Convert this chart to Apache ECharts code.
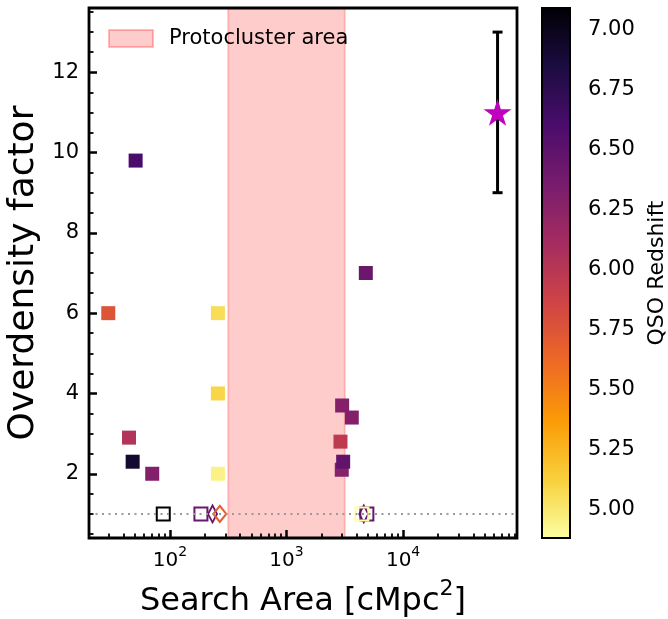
<!DOCTYPE html>
<html>
<head>
<meta charset="utf-8">
<script src="https://cdn.jsdelivr.net/npm/echarts@6/dist/echarts.min.js"></script>
<style>
  html, body { margin: 0; padding: 0; background: #fff; }
  #chart { width: 668px; height: 619px; }
</style>
</head>
<body>
<div id="chart"></div>
<script>
// Galaxy overdensity around QSOs versus survey search area, coloured by QSO redshift.

// Filled squares: measured overdensities
const areaFilled  = [29.6, 44.6, 47.9, 50.8, 70.5, 258, 258, 258, 2904, 2979, 3062, 3000, 3630, 4790];
const deltaFilled = [6.0, 2.9, 2.3, 9.8, 2.0, 6.0, 4.0, 2.0, 2.8, 2.1, 2.3, 3.7, 3.4, 7.0];
const zFilled     = [5.75, 6.03, 6.91, 6.60, 6.29, 5.06, 5.10, 4.95, 5.96, 6.27, 6.47, 6.29, 6.29, 6.43];

// Open thin diamonds (no overdensity)
const areaThinDiamond  = [232, 4600];
const deltaThinDiamond = [1, 1];
const zThinDiamond     = [6.45, 6.45];

// Open squares (no overdensity)
const areaOpenSquare  = [87.7, 184.5, 4890, 4430];
const deltaOpenSquare = [1, 1, 1, 1];
const zOpenSquare     = [7.09, 6.43, 6.45, 4.88];

// Open diamonds (no overdensity)
const areaDiamond  = [268];
const deltaDiamond = [1];
const zDiamond     = [5.68];

// Protocluster reference point with its error bar
const protoArea     = [64600];
const protoDelta    = [11];
const protoErrLow   = [9];
const protoErrHigh  = [13];

// Protocluster search-area band and the no-overdensity baseline
const protoclusterRange = [316.2, 3162];
const baselineDelta = 1;

// Axis ticks
const yTickValues   = [2, 4, 6, 8, 10, 12];
const xTickExponent = [2, 3, 4];
const cbTickValues  = [5.00, 5.25, 5.50, 5.75, 6.00, 6.25, 6.50, 6.75, 7.00];
const redshiftRange = [4.88, 7.09];

// Axis limits (x in log10 of search area)
const xLimits = [1.306, 4.977];
const yLimits = [0.4, 13.6];

// inferno colour map (dark = high redshift)
const inferno = ['#000004', '#1b0c41', '#4a0c6b', '#781c6d', '#a52c60',
                 '#cf4446', '#ed6925', '#fb9b06', '#f7d13d', '#fcffa4'];

function hexToRgb(h) {
  return [parseInt(h.slice(1, 3), 16), parseInt(h.slice(3, 5), 16), parseInt(h.slice(5, 7), 16)];
}
function redshiftColor(z) {
  let t = (redshiftRange[1] - z) / (redshiftRange[1] - redshiftRange[0]);
  t = Math.max(0, Math.min(1, t));
  const pos = t * (inferno.length - 1);
  const i = Math.min(Math.floor(pos), inferno.length - 2);
  const f = pos - i;
  const a = hexToRgb(inferno[i]), b = hexToRgb(inferno[i + 1]);
  const c = a.map((v, k) => Math.round(v + (b[k] - v) * f));
  return 'rgb(' + c.join(',') + ')';
}

const log10 = Math.log10;

// minor ticks
const xMinor = [];
for (let n = 1; n <= 4; n++) {
  for (let k = 2; k <= 9; k++) {
    const v = log10(k * Math.pow(10, n));
    if (v > xLimits[0] && v < xLimits[1]) xMinor.push(v);
  }
}
const yMinor = [];
for (let v = 0.5; v < yLimits[1]; v += 0.5) {
  if (yTickValues.indexOf(v) < 0) yMinor.push(v);
}

function starPath() {
  const pts = [];
  for (let i = 0; i < 10; i++) {
    const r = i % 2 === 0 ? 1 : 0.382;
    const a = -Math.PI / 2 + i * Math.PI / 5;
    pts.push((r * Math.cos(a)).toFixed(4) + ',' + (r * Math.sin(a)).toFixed(4));
  }
  return 'path://M' + pts.join(' L') + ' Z';
}

function filledPoints(xs, ys, zs) {
  return xs.map((x, i) => ({ value: [log10(x), ys[i], zs[i]],
    itemStyle: { color: redshiftColor(zs[i]), opacity: 1 } }));
}
function openPoints(xs, ys, zs) {
  return xs.map((x, i) => ({ value: [log10(x), ys[i], zs[i]],
    itemStyle: { color: 'transparent', borderColor: redshiftColor(zs[i]), borderWidth: 2, opacity: 1 } }));
}

const FONT = 'DejaVu Sans';
const gradientStops = inferno.map((c, i) => ({ offset: i / (inferno.length - 1), color: c }));

const chart = echarts.init(document.getElementById('chart'), null, { renderer: 'canvas' });

chart.setOption({
  animation: false,
  backgroundColor: '#fff',
  textStyle: { fontFamily: FONT, color: '#000' },
  legend: {
    left: 103, top: 23,
    itemWidth: 44, itemHeight: 17,
    textStyle: { fontSize: 21, color: '#000', fontFamily: FONT, padding: [0, 0, 0, 11] },
    selectedMode: false,
    data: [{ name: 'Protocluster area', icon: 'rect',
      itemStyle: { color: 'rgba(255,0,0,0.2)', borderColor: 'rgba(255,0,0,0.25)', borderWidth: 2, opacity: 1 } }]
  },
  grid: [
    { left: 89, top: 8, width: 428, height: 530, show: true, z: 10, outerBoundsMode: 'none', containLabel: false,
      backgroundColor: 'transparent', borderColor: '#000', borderWidth: 2.8 },
    { left: 542, top: 8, width: 28, height: 530, outerBoundsMode: 'none', containLabel: false }
  ],
  xAxis: [
    {
      gridIndex: 0, type: 'value', min: xLimits[0], max: xLimits[1], position: 'bottom', z: 10,
      axisLine: { show: false },
      splitLine: { show: false },
      axisTick: { inside: true, length: 8, customValues: xTickExponent, lineStyle: { color: '#000', width: 2.5 } },
      axisLabel: {
        customValues: xTickExponent, margin: 7,
        formatter: v => '{b|10}{s|' + Math.round(v) + '}',
        rich: {
          b: { fontSize: 20, fontFamily: FONT, color: '#000', lineHeight: 26, verticalAlign: 'bottom' },
          s: { fontSize: 14, fontFamily: FONT, color: '#000', lineHeight: 14, verticalAlign: 'top' }
        }
      },
      name: '{b|Search Area [cMpc}{s|2}{b|]}',
      nameLocation: 'middle', nameGap: 40,
      nameTextStyle: {
        rich: {
          b: { fontSize: 32, fontFamily: FONT, color: '#000', lineHeight: 40, verticalAlign: 'bottom' },
          s: { fontSize: 22, fontFamily: FONT, color: '#000', lineHeight: 22, verticalAlign: 'top' }
        }
      }
    },
    {
      gridIndex: 0, type: 'value', min: xLimits[0], max: xLimits[1], position: 'bottom', z: 10,
      axisLine: { show: false }, splitLine: { show: false }, axisLabel: { show: false },
      axisTick: { inside: true, length: 4.5, customValues: xMinor, lineStyle: { color: '#000', width: 1.8 } }
    },
    { gridIndex: 1, type: 'value', min: 0, max: 1, show: false }
  ],
  yAxis: [
    {
      gridIndex: 0, type: 'value', min: yLimits[0], max: yLimits[1], position: 'left', z: 10,
      axisLine: { show: false }, splitLine: { show: false },
      axisTick: { inside: true, length: 8, customValues: yTickValues, lineStyle: { color: '#000', width: 2.5 } },
      axisLabel: { customValues: yTickValues, margin: 10, fontSize: 21, color: '#000', fontFamily: FONT },
      name: 'Overdensity factor', nameLocation: 'middle', nameGap: 35, nameRotate: 90,
      nameTextStyle: { fontSize: 36, color: '#000', fontFamily: FONT }
    },
    {
      gridIndex: 0, type: 'value', min: yLimits[0], max: yLimits[1], position: 'left', z: 10,
      axisLine: { show: false }, splitLine: { show: false }, axisLabel: { show: false },
      axisTick: { inside: true, length: 4.5, customValues: yMinor, lineStyle: { color: '#000', width: 1.8 } }
    },
    {
      gridIndex: 1, type: 'value', min: redshiftRange[0], max: redshiftRange[1], position: 'right',
      axisLine: { show: false }, splitLine: { show: false },
      axisTick: { inside: false, length: 8, customValues: cbTickValues, lineStyle: { color: '#000', width: 2 } },
      axisLabel: { customValues: cbTickValues, margin: 18, fontSize: 21, color: '#000', fontFamily: FONT,
        formatter: v => v.toFixed(2) },
      name: 'QSO Redshift', nameLocation: 'middle', nameGap: 76, nameRotate: 90,
      nameTextStyle: { fontSize: 22, color: '#000', fontFamily: FONT }
    }
  ],
  series: [
    {
      name: 'Protocluster area', type: 'scatter', xAxisIndex: 0, yAxisIndex: 0, data: [], z: 1,
      itemStyle: { color: 'rgba(255,0,0,0.2)' },
      markArea: {
        silent: true,
        itemStyle: { color: 'rgba(255,0,0,0.2)', borderColor: 'rgba(255,0,0,0.2)', borderWidth: 2, opacity: 1 },
        data: [[{ xAxis: log10(protoclusterRange[0]) }, { xAxis: log10(protoclusterRange[1]) }]]
      }
    },
    {
      name: 'baseline', type: 'scatter', xAxisIndex: 0, yAxisIndex: 0, data: [], z: 2,
      markLine: {
        silent: true, symbol: ['none', 'none'], label: { show: false },
        lineStyle: { color: '#999999', type: [2, 4.5], width: 2.2, opacity: 1 },
        data: [{ yAxis: baselineDelta }]
      }
    },
    {
      name: 'measured', type: 'scatter', xAxisIndex: 0, yAxisIndex: 0, z: 3,
      symbol: 'rect', symbolSize: 14,
      data: filledPoints(areaFilled, deltaFilled, zFilled)
    },
    {
      name: 'thin diamonds', type: 'scatter', xAxisIndex: 0, yAxisIndex: 0, z: 3,
      symbol: 'diamond', symbolSize: [9, 17],
      data: openPoints(areaThinDiamond, deltaThinDiamond, zThinDiamond)
    },
    {
      name: 'open squares', type: 'scatter', xAxisIndex: 0, yAxisIndex: 0, z: 3,
      symbol: 'rect', symbolSize: 13,
      data: openPoints(areaOpenSquare, deltaOpenSquare, zOpenSquare)
    },
    {
      name: 'diamonds', type: 'scatter', xAxisIndex: 0, yAxisIndex: 0, z: 3,
      symbol: 'diamond', symbolSize: [13, 16],
      data: openPoints(areaDiamond, deltaDiamond, zDiamond)
    },
    {
      name: 'protocluster error', type: 'custom', xAxisIndex: 0, yAxisIndex: 0, z: 4,
      encode: { x: 0, y: [1, 2] },
      data: protoArea.map((x, i) => [log10(x), protoErrLow[i], protoErrHigh[i]]),
      renderItem: (params, api) => {
        const x = api.value(0);
        const p0 = api.coord([x, api.value(1)]);
        const p1 = api.coord([x, api.value(2)]);
        const cap = 5;
        const style = { stroke: '#000', lineWidth: 3 };
        return { type: 'group', children: [
          { type: 'line', shape: { x1: p0[0], y1: p0[1], x2: p1[0], y2: p1[1] }, style },
          { type: 'line', shape: { x1: p0[0] - cap, y1: p0[1], x2: p0[0] + cap, y2: p0[1] }, style },
          { type: 'line', shape: { x1: p1[0] - cap, y1: p1[1], x2: p1[0] + cap, y2: p1[1] }, style }
        ] };
      }
    },
    {
      name: 'protocluster', type: 'scatter', xAxisIndex: 0, yAxisIndex: 0, z: 5,
      symbol: starPath(), symbolKeepAspect: true, symbolSize: 28,
      itemStyle: { color: '#bf00bf', opacity: 1 },
      data: protoArea.map((x, i) => [log10(x), protoDelta[i]])
    },
    {
      name: 'colorbar', type: 'custom', xAxisIndex: 2, yAxisIndex: 2,
      encode: { x: 0, y: [1, 2] },
      data: [[0, redshiftRange[0], redshiftRange[1]]],
      renderItem: (params, api) => {
        const tl = api.coord([0, api.value(2)]);
        const br = api.coord([1, api.value(1)]);
        return {
          type: 'rect',
          shape: { x: tl[0], y: tl[1], width: br[0] - tl[0], height: br[1] - tl[1] },
          style: { fill: new echarts.graphic.LinearGradient(0, 0, 0, 1, gradientStops), stroke: '#000', lineWidth: 2 }
        };
      }
    }
  ]
});
</script>
</body>
</html>
